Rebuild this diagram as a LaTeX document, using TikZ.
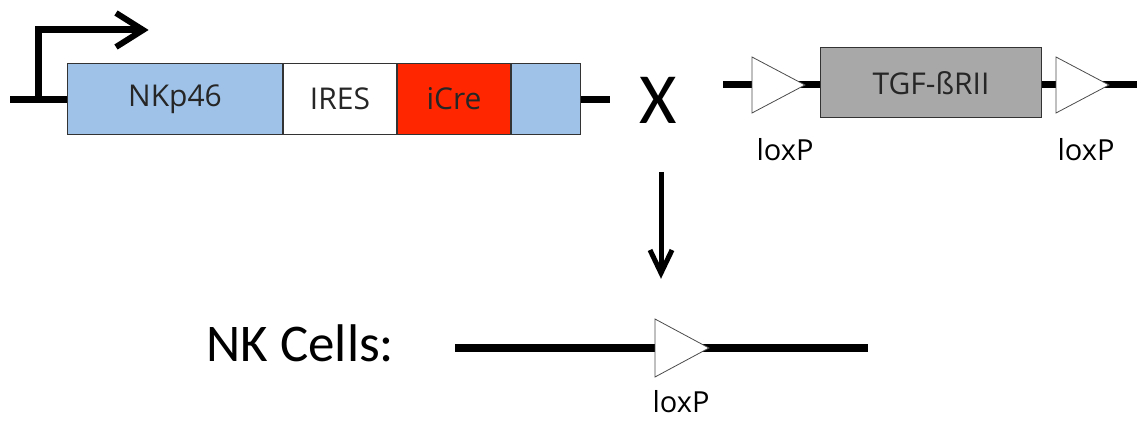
\documentclass[tikz,border=0pt]{standalone}
\usepackage{fontspec}
\setmainfont{Open Sans}
\newfontfamily\calib{Carlito}
\begin{document}
\begin{tikzpicture}[x=1pt,y=-1pt,
  dna/.style={line width=7pt},
  seg/.style={draw=black!80, line width=1pt, minimum height=71pt, inner sep=0pt, font=\fontsize{30}{32}\selectfont, anchor=west, text=black!85},
  lox/.style={draw=black!70, fill=white, line width=0.8pt},
  lbl/.style={font=\fontsize{29}{31}\selectfont},
  chev/.style={line width=6pt, line cap=butt, line join=miter}
]
\useasboundingbox (0,0) rectangle (1144,425);
\definecolor{nkblue}{HTML}{9FC3E8}
\definecolor{crered}{HTML}{FF2600}
\definecolor{tgfgray}{HTML}{A8A8A8}

% construct 1
\coordinate (l0) at (10,100);
\coordinate (l1) at (610,100);
\draw[dna] (l0) -- (l1);
\node[seg, fill=nkblue, minimum width=215pt] (nk) at (67,99) {NKp46};
\node[seg, fill=white, minimum width=113pt] (ires) at (nk.east) {IRES};
\node[seg, fill=crered, minimum width=113pt] (icre) at (ires.east) {iCre};
\node[seg, fill=nkblue, minimum width=69pt] (tail) at (icre.east) {};
% promoter
\coordinate (p0) at (38,103);
\coordinate (p1) at (38,30);
\coordinate (p2) at (143,30);
\draw[line width=7pt, line join=miter] (p0) -- (p1) -- (p2);
\coordinate (a1) at (116,13);
\coordinate (a2) at (116,47);
\draw[chev] (a1) -- (p2) -- (a2);

% cross
\node[font=\calib\fontsize{72}{72}\selectfont] (x) at (658,100) {X};

% construct 2
\coordinate (m0) at (723,85);
\coordinate (m1) at (1137,85);
\draw[dna] (m0) -- (m1);
\draw[lox] (752,57) -- (805,85) -- (752,113) -- cycle;
\node[seg, fill=tgfgray, minimum width=221pt, minimum height=70pt] (tgf) at (820,83) {TGF-ßRII};
\draw[lox] (1056,57) -- (1109,85) -- (1056,113) -- cycle;
\node[lbl] (lx1) at (785,150) {loxP};
\node[lbl] (lx2) at (1086,150) {loxP};

% arrow down
\coordinate (d0) at (661,172);
\coordinate (d1) at (661,273);
\draw[line width=5pt] (d0) -- (d1);
\draw[line width=5pt, line join=miter] (650,250) -- (d1) -- (672,250);

% result
\node[font=\calib\fontsize{53}{55}\selectfont, anchor=west] (nkc) at (203,343) {NK Cells:};
\coordinate (r0) at (455,348);
\coordinate (r1) at (868,348);
\draw[line width=8pt] (r0) -- (r1);
\draw[lox] (655,319) -- (709,348) -- (655,377) -- cycle;
\node[lbl] (lx3) at (681,402) {loxP};
\end{tikzpicture}
\end{document}
